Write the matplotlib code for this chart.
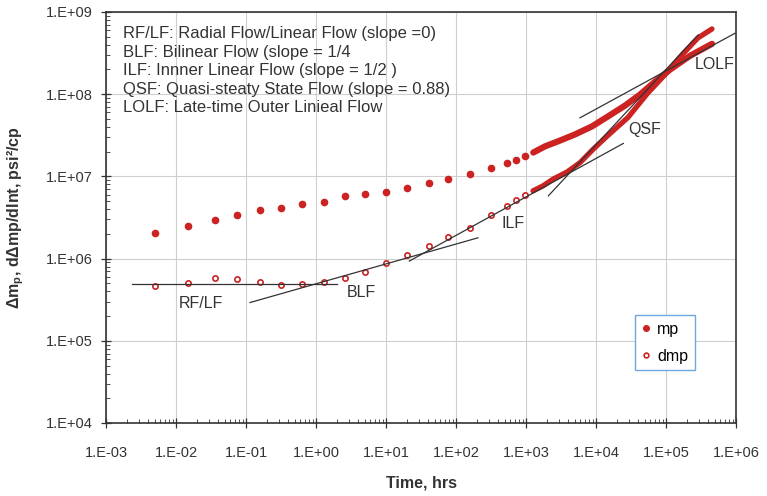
import numpy as np
import matplotlib
matplotlib.use("Agg")
import matplotlib.pyplot as plt
from matplotlib.ticker import LogLocator, FuncFormatter, NullFormatter

plt.rcParams['font.family'] = ['Liberation Sans', 'DejaVu Sans']
plt.rcParams['mathtext.fontset'] = 'custom'
plt.rcParams['mathtext.rm'] = 'Liberation Sans'
plt.rcParams['mathtext.bf'] = 'Liberation Sans:bold'

# --- data
t_pts = [0.005, 0.015, 0.036, 0.074, 0.157, 0.316, 0.637, 1.29, 2.6, 5.0,
         10, 20, 41, 78, 158, 316, 530, 726, 977]
mp_pts = [2.07e6, 2.47e6, 2.95e6, 3.37e6, 3.87e6, 4.12e6, 4.6e6, 4.91e6, 5.71e6, 6.1e6,
          6.5e6, 7.26e6, 8.3e6, 9.25e6, 1.06e7, 1.26e7, 1.45e7, 1.6e7, 1.79e7]
dmp_pts = [4.69e5, 5.1e5, 5.86e5, 5.7e5, 5.14e5, 4.82e5, 4.91e5, 5.2e5, 5.81e5, 6.92e5,
           8.9e5, 1.12e6, 1.43e6, 1.82e6, 2.38e6, 3.39e6, 4.4e6, 5.15e6, 5.92e6]

# dense late-time part (markers overlap into a thick band)
t_mp_dense = [1270, 1870, 2870, 5010, 8770, 1.48e4, 2.6e4, 4.25e4, 6.96e4, 1.14e5, 2.2e5, 4.54e5]
mp_dense = [1.95e7, 2.32e7, 2.67e7, 3.24e7, 4.06e7, 5.36e7, 7.28e7, 9.9e7, 1.42e8, 1.99e8, 2.93e8, 4.1e8]
t_dmp_dense = [1259, 1750, 2430, 3850, 5910, 9060, 1.44e4, 2.86e4, 5.53e4, 9.68e4, 1.69e5, 2.86e5, 4.54e5]
dmp_dense = [6.67e6, 7.67e6, 9.25e6, 1.13e7, 1.47e7, 2.13e7, 3.09e7, 5.21e7, 1.04e8, 1.73e8, 3.01e8, 4.84e8, 6.22e8]

# flow regime tangent lines and their labels
regimes = ["RF/LF", "BLF", "ILF", "QSF", "LOLF"]
reg_t = [[2.38e-3, 2.0], [0.114, 206], [21.5, 2.46e4], [2086, 2.89e5], [5900, 9.7e5]]
reg_v = [[4.9e5, 4.9e5], [2.92e5, 1.79e6], [9.33e5, 2.52e7], [5.8e6, 5.27e8], [5.16e7, 5.52e8]]
lab_t = [0.0228, 4.5, 659, 5.0e4, 5.0e5]
lab_v = [2.84e5, 3.82e5, 2.64e6, 3.72e7, 2.28e8]

note = ("RF/LF: Radial Flow/Linear Flow (slope =0)\n"
        "BLF: Bilinear Flow (slope = 1/4\n"
        "ILF: Innner Linear Flow (slope = 1/2 )\n"
        "QSF: Quasi-steaty State Flow (slope = 0.88)\n"
        "LOLF: Late-time Outer Linieal Flow")

red = '#cc2222'
dark = '#333333'

fig = plt.figure(figsize=(7.67, 4.96), dpi=100)
ax = fig.add_axes([106/767, 1 - 423/496, 630/767, 411/496])

ax.plot(t_mp_dense, mp_dense, color=red, lw=4.5, solid_capstyle='round', zorder=3)
ax.plot(t_dmp_dense, dmp_dense, color=red, lw=3.8, solid_capstyle='round', zorder=3)
ax.plot(t_pts, mp_pts, 'o', color=red, ms=4.5, mec=red, zorder=4, label='mp')
ax.plot(t_pts, dmp_pts, 'o', color=red, ms=3.8, mfc='white', mec=red, mew=1.2,
        zorder=4, label='dmp')

for name, tt, vv, lt, lv in zip(regimes, reg_t, reg_v, lab_t, lab_v):
    ax.plot(tt, vv, color=dark, lw=0.9, zorder=5)
    ax.text(lt, lv, name, fontsize=11.5, color=dark, ha='center', va='center')

ax.text(0.027, 0.966, note, transform=ax.transAxes, fontsize=12, color=dark,
        va='top', ha='left', linespacing=1.3)

ax.set_xscale('log')
ax.set_yscale('log')
ax.set_xlim(1e-3, 1e6)
ax.set_ylim(1e4, 1e9)

fmt = FuncFormatter(lambda v, p: '1.E%+03d' % int(round(np.log10(v))))
for axis in (ax.xaxis, ax.yaxis):
    axis.set_major_locator(LogLocator(base=10, numticks=20))
    axis.set_minor_locator(LogLocator(base=10, subs=np.arange(2, 10), numticks=20))
    axis.set_major_formatter(fmt)
    axis.set_minor_formatter(NullFormatter())

ax.tick_params(which='major', direction='inout', length=7, width=0.9, colors=dark,
               labelsize=10.5)
ax.tick_params(axis='y', which='major', pad=6)
ax.tick_params(axis='x', which='major', pad=13)
ax.tick_params(which='minor', direction='in', length=3, width=0.6, colors=dark)
ax.grid(True, which='major', color='#cfcfcf', lw=0.8)
ax.set_axisbelow(True)
for s in ax.spines.values():
    s.set_color('#333333')
    s.set_linewidth(1.2)

ax.set_xlabel('Time, hrs', fontsize=11.5, fontweight='bold', color=dark, labelpad=11)
ax.set_ylabel(r'Δm$_\mathbf{p}$, dΔmp/dlnt, psi²/cp', fontsize=11.5,
              fontweight='bold', color=dark, labelpad=14)

leg = ax.legend(loc='upper left', bbox_to_anchor=(0.8397, 0.262), borderaxespad=0,
                fancybox=False, framealpha=1, edgecolor='#6fa8dc', fontsize=11.5,
                handlelength=0.6, handletextpad=0.4, borderpad=0.4, labelspacing=0.75,
                markerscale=0.9)
leg.get_frame().set_linewidth(1.0)

fig.savefig('out.png', dpi=100)
